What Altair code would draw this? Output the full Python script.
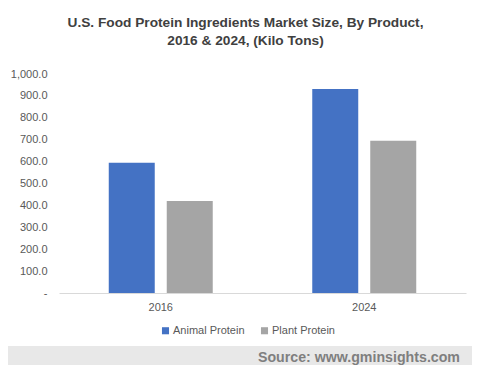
import altair as alt
import pandas as pd

years = ["2016", "2016", "2024", "2024"]
products = ["Animal Protein", "Plant Protein", "Animal Protein", "Plant Protein"]
values = [595.0, 420.0, 932.0, 695.0]
source_text = ["Source: www.gminsights.com"]

df = pd.DataFrame({"year": years, "product": products, "value": values})

colors = ["#4472C4", "#A5A5A5"]

bars = alt.Chart(df).mark_bar().encode(
    x=alt.X("year:N", title=None,
            scale=alt.Scale(paddingInner=0.489, paddingOuter=0.2445),
            axis=alt.Axis(labelAngle=0, ticks=False, domainColor="#D9D9D9",
                          labelColor="#595959", labelFontSize=11, labelPadding=8,
                          labelFont="Liberation Sans")),
    xOffset=alt.XOffset("product:N", scale=alt.Scale(paddingInner=0.207, paddingOuter=0)),
    y=alt.Y("value:Q", title=None,
            scale=alt.Scale(domain=[0, 1000]),
            axis=alt.Axis(values=[0, 100, 200, 300, 400, 500, 600, 700, 800, 900, 1000],
                          labelExpr="datum.value == 0 ? '-' : format(datum.value, ',.1f')",
                          grid=False, domain=False, ticks=False, labelPadding=12,
                          labelColor="#595959", labelFontSize=11,
                          labelFont="Liberation Sans")),
    color=alt.Color("product:N", title=None,
                    scale=alt.Scale(domain=["Animal Protein", "Plant Protein"], range=colors),
                    legend=alt.Legend(orient="none", legendX=101, legendY=251,
                                      direction="horizontal", symbolType="square",
                                      symbolSize=50, symbolStrokeWidth=0,
                                      labelFontSize=11, labelColor="#595959",
                                      labelFont="Liberation Sans", columnPadding=14,
                                      symbolOffset=0, labelOffset=2)),
)

band = alt.Chart(pd.DataFrame({"t": source_text})).mark_rect(
    color="#E8E8E8"
).encode(
    x=alt.value(-51), x2=alt.value(413), y=alt.value(272), y2=alt.value(300)
)

src = alt.Chart(pd.DataFrame({"t": source_text})).mark_text(
    align="right", baseline="middle", fontWeight="bold", fontSize=14.2,
    color="#7F7F7F", font="Liberation Sans"
).encode(
    x=alt.value(401), y=alt.value(284), text="t:N"
)

chart = alt.layer(band, bars, src).properties(
    width=407,
    height=219,
    autosize=alt.AutoSizeParams(type="none"),
    padding={"left": 51, "top": 66, "right": 6, "bottom": 72},
    title=alt.TitleParams(
        text=["U.S. Food Protein Ingredients Market Size, By Product,",
              "2016 & 2024, (Kilo Tons)"],
        fontSize=13.7, fontWeight="bold", color="#404040", font="Liberation Sans",
        anchor="middle", dx=-17, offset=20, lineHeight=18,
    ),
).configure_view(stroke=None)

chart.save("out.html", embed_options={"renderer": "svg", "actions": False})
